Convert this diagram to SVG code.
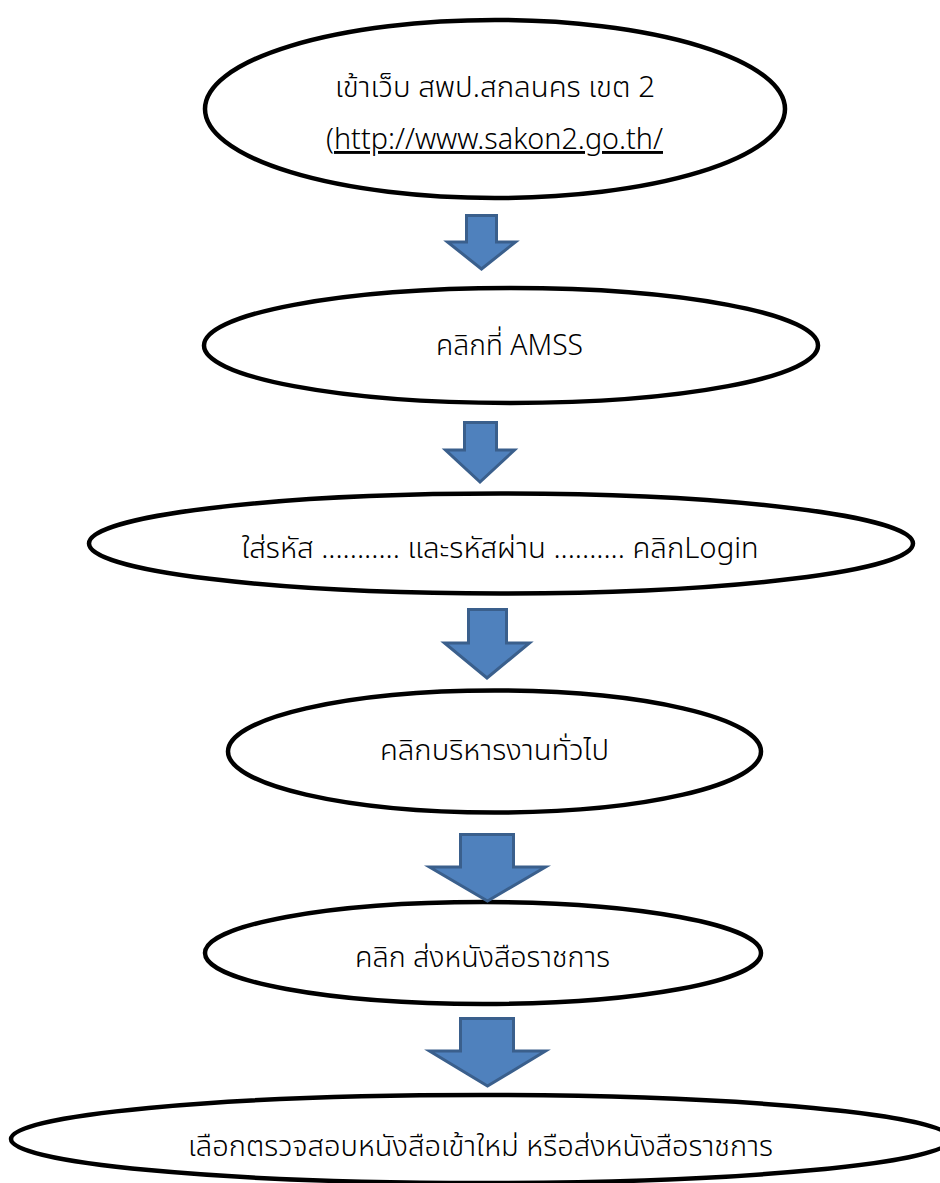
<svg xmlns="http://www.w3.org/2000/svg" width="940" height="1183" viewBox="0 0 940 1183">
<style>
.node ellipse{fill:#fff;stroke:#000;stroke-width:4.5}
.lbl{font-family:"Noto Sans Thai","Noto Sans","Liberation Sans",sans-serif;font-size:29px;fill:#000;text-anchor:middle;font-weight:300}
.arr{fill:#4F81BD;stroke:#3A5F8C;stroke-width:3;stroke-linejoin:miter}
</style>
<rect width="940" height="1183" fill="#fff"/>
<g id="n1" class="node">
<ellipse cx="495" cy="109" rx="290" ry="89"/>
<text class="lbl" x="495" y="97" textLength="320" lengthAdjust="spacingAndGlyphs">เข้าเว็บ สพป.สกลนคร เขต 2</text>
<text class="lbl" x="494.5" y="149" textLength="337" lengthAdjust="spacingAndGlyphs">(<tspan text-decoration="underline">http://www.sakon2.go.th/</tspan></text>
</g>
<g id="n2" class="node">
<ellipse cx="511" cy="345.5" rx="307" ry="57.5"/>
<text class="lbl" x="509.5" y="355" textLength="147" lengthAdjust="spacingAndGlyphs">คลิกที่ AMSS</text>
</g>
<g id="n3" class="node">
<ellipse cx="501" cy="543.5" rx="412" ry="50"/>
<text class="lbl" x="500" y="558" textLength="517" lengthAdjust="spacingAndGlyphs">ใส่รหัส ........... และรหัสผ่าน .......... คลิกLogin</text>
</g>
<g id="n4" class="node">
<ellipse cx="494.5" cy="751.5" rx="266.5" ry="61"/>
<text class="lbl" x="494.5" y="760" textLength="229" lengthAdjust="spacingAndGlyphs">คลิกบริหารงานทั่วไป</text>
</g>
<g id="n5" class="node">
<ellipse cx="483" cy="953" rx="278" ry="51"/>
<text class="lbl" x="482.5" y="967" textLength="255" lengthAdjust="spacingAndGlyphs">คลิก ส่งหนังสือราชการ</text>
</g>
<g id="n6" class="node">
<ellipse cx="481" cy="1139" rx="470" ry="44"/>
<text class="lbl" x="480.5" y="1156" textLength="585" lengthAdjust="spacingAndGlyphs">เลือกตรวจสอบหนังสือเข้าใหม่ หรือส่งหนังสือราชการ</text>
</g>
<g id="connectors">
<path class="arr" d="M466.5 215.5 H496.5 V242 H515.5 L481.5 269 L447.5 242 H466.5 Z"/>
<path class="arr" d="M464.5 422.5 H496.5 V450 H514.5 L480 482 L445.5 450 H464.5 Z"/>
<path class="arr" d="M468.5 609.5 H506.5 V643 H529.5 L487 678 L444.5 643 H468.5 Z"/>
<path class="arr" d="M460.5 834.5 H513.5 V867 H545.5 L487.5 901 L429.5 867 H460.5 Z"/>
<path class="arr" d="M460.5 1018.5 H513.5 V1051 H545.5 L487.5 1086 L429.5 1051 H460.5 Z"/>
</g>
</svg>
